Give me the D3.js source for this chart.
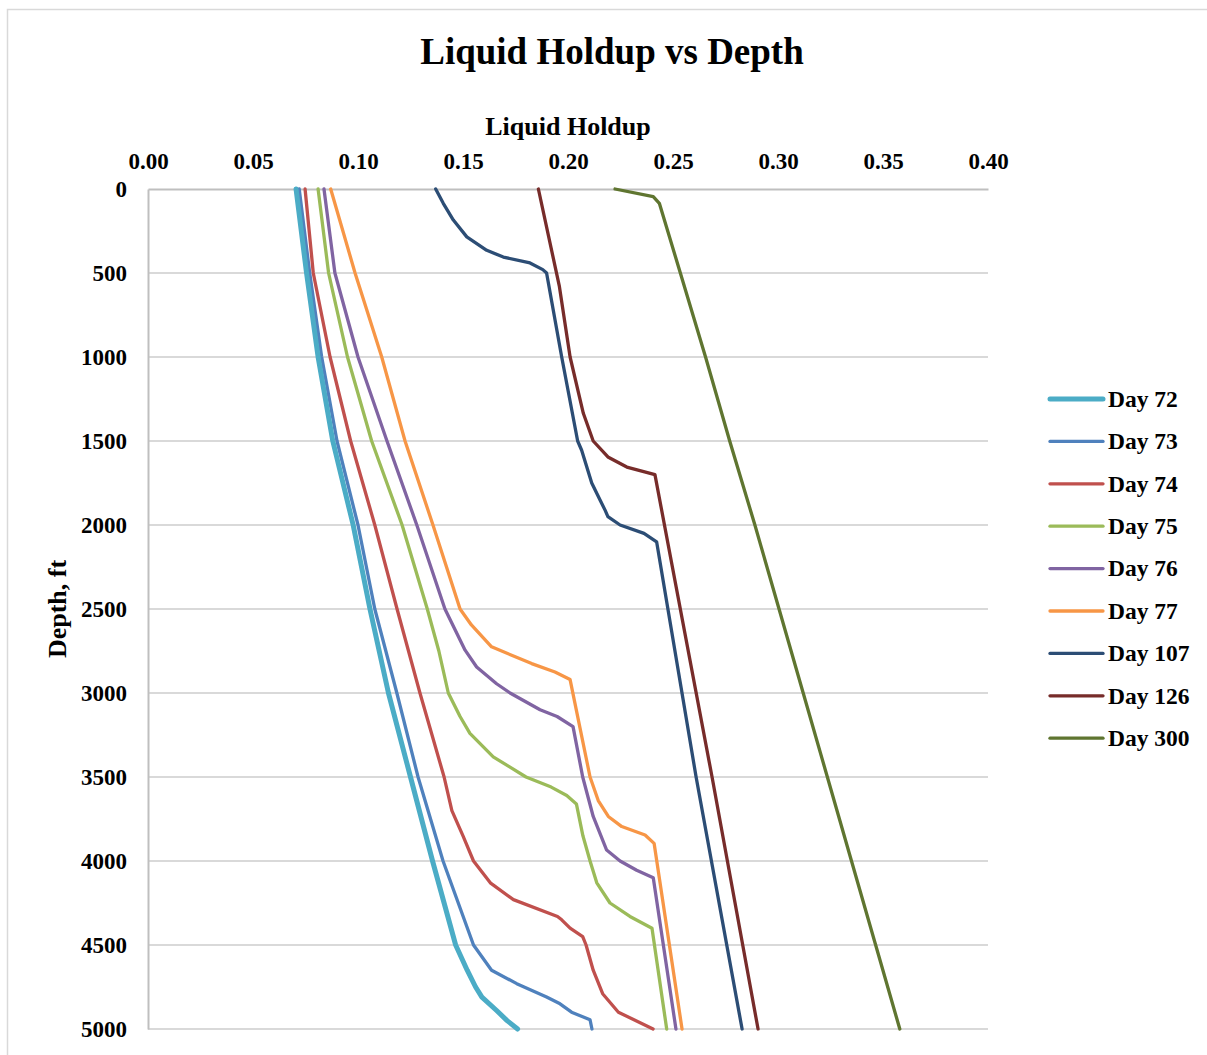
<!DOCTYPE html>
<html>
<head>
<meta charset="utf-8">
<script src="https://cdn.jsdelivr.net/npm/d3@7"></script>
<style>
  html, body { margin: 0; padding: 0; background: #fff; }
  svg text { font-family: "Liberation Serif", "Times New Roman", serif; font-weight: bold; fill: #000; }
</style>
</head>
<body>
<svg id="chart" width="1207" height="1055"></svg>
<script>
// Liquid holdup profiles along the well, one [depth ft, holdup] list per day
const seriesNames = ["Day 72", "Day 73", "Day 74", "Day 75", "Day 76", "Day 77", "Day 107", "Day 126", "Day 300"];
const seriesColors = ["#4bacc6", "#4f81bd", "#c0504d", "#9bbb59", "#8064a2", "#f79646", "#2c4d75", "#772c2a", "#5f7530"];

const day72 = [[0,0.0705],[500,0.0755],[1000,0.081],[1500,0.088],[2000,0.0977],[2500,0.1057],[3000,0.1145],[3500,0.125],[4000,0.1355],[4500,0.1465],[4650,0.152],[4750,0.156],[4810,0.159],[4890,0.166],[4950,0.171],[5000,0.176]];
const day73 = [[0,0.072],[500,0.077],[1000,0.0827],[1500,0.090],[2000,0.100],[2500,0.108],[3000,0.1185],[3500,0.1286],[4000,0.1405],[4500,0.155],[4650,0.1636],[4730,0.1756],[4810,0.1898],[4850,0.1962],[4900,0.2017],[4945,0.2105],[5000,0.2114]];
const day74 = [[0,0.0748],[500,0.0787],[1000,0.0867],[1500,0.0965],[2000,0.108],[2500,0.1186],[3000,0.1295],[3500,0.141],[3700,0.1447],[3850,0.150],[4000,0.155],[4130,0.163],[4230,0.174],[4330,0.195],[4350,0.197],[4400,0.201],[4450,0.207],[4500,0.2086],[4650,0.212],[4790,0.2165],[4900,0.224],[5000,0.2405]];
const day75 = [[0,0.081],[500,0.086],[1000,0.095],[1500,0.1065],[2000,0.121],[2500,0.133],[2750,0.1385],[3000,0.143],[3140,0.1486],[3240,0.1533],[3380,0.1644],[3500,0.180],[3560,0.192],[3610,0.1994],[3660,0.204],[3850,0.2071],[4000,0.2105],[4130,0.2137],[4250,0.220],[4330,0.2295],[4400,0.240],[5000,0.247]];
const day76 = [[0,0.0838],[500,0.089],[1000,0.100],[1500,0.1138],[2000,0.128],[2500,0.1414],[2745,0.151],[2845,0.1565],[2945,0.166],[3000,0.1724],[3100,0.1867],[3140,0.1948],[3200,0.2024],[3500,0.207],[3735,0.212],[3935,0.2184],[4000,0.2248],[4055,0.2327],[4100,0.2406],[5000,0.2514]];
const day77 = [[0,0.087],[500,0.0986],[1000,0.1113],[1500,0.1224],[2000,0.1357],[2500,0.1486],[2595,0.154],[2725,0.1636],[2825,0.1827],[2875,0.1938],[2920,0.201],[3500,0.2105],[3640,0.2144],[3735,0.2192],[3795,0.2256],[3845,0.2367],[3895,0.241],[5000,0.2543]];
const day107 = [[0,0.137],[85,0.1406],[185,0.1454],[285,0.1518],[365,0.1613],[405,0.1692],[440,0.1819],[480,0.188],[500,0.1898],[1000,0.197],[1500,0.2046],[1555,0.2065],[1750,0.2113],[1850,0.2152],[1910,0.2176],[1950,0.219],[2000,0.2248],[2050,0.2362],[2100,0.2422],[3500,0.261],[5000,0.2829]];
const day126 = [[0,0.1859],[580,0.1959],[1000,0.201],[1335,0.2073],[1500,0.212],[1595,0.219],[1655,0.228],[1700,0.2414],[3500,0.2686],[5000,0.2905]];
const day300 = [[0,0.2224],[45,0.2406],[85,0.2435],[500,0.2535],[1000,0.2655],[1500,0.277],[2000,0.289],[2500,0.3005],[3000,0.312],[3500,0.3235],[4000,0.335],[4500,0.3465],[5000,0.358]];
const seriesData = [day72, day73, day74, day75, day76, day77, day107, day126, day300];

const holdupTicks = [0, 0.05, 0.10, 0.15, 0.20, 0.25, 0.30, 0.35, 0.40];
const depthTicks = [0, 500, 1000, 1500, 2000, 2500, 3000, 3500, 4000, 4500, 5000];

const svg = d3.select("#chart");

// outer chart frame
svg.append("rect")
  .attr("x", 7.5).attr("y", 9.5)
  .attr("width", 1215).attr("height", 1060)
  .attr("fill", "#fff").attr("stroke", "#d9d9d9").attr("stroke-width", 1.5);

const plot = { left: 148, right: 988, top: 189, bottom: 1029 };

const x = d3.scaleLinear().domain([0, 0.40]).range([plot.left, plot.right]);
const y = d3.scaleLinear().domain([0, 5000]).range([plot.top, plot.bottom]);

// horizontal gridlines
svg.append("g")
  .selectAll("line")
  .data(depthTicks.filter(d => d > 0))
  .join("line")
  .attr("x1", plot.left).attr("x2", plot.right)
  .attr("y1", d => y(d)).attr("y2", d => y(d))
  .attr("stroke", "#d9d9d9").attr("stroke-width", 2);

// top (holdup) axis
const xAxis = svg.append("g")
  .attr("transform", `translate(0,${plot.top})`)
  .call(d3.axisTop(x).tickValues(holdupTicks).tickFormat(d3.format(".2f")).tickSize(0).tickPadding(20));
xAxis.select(".domain").attr("stroke", "#bfbfbf").attr("stroke-width", 2);
xAxis.selectAll("text")
  .attr("font-size", 23)
  .attr("font-family", "Liberation Serif")
  .attr("font-weight", "bold")
  .attr("fill", "#000");

// left (depth) axis
const yAxis = svg.append("g")
  .attr("transform", `translate(${plot.left},0)`)
  .call(d3.axisLeft(y).tickValues(depthTicks).tickFormat(d3.format("d")).tickSize(0).tickPadding(21));
yAxis.select(".domain").attr("stroke", "#bfbfbf").attr("stroke-width", 2);
yAxis.selectAll("text")
  .attr("font-size", 23)
  .attr("font-family", "Liberation Serif")
  .attr("font-weight", "bold")
  .attr("fill", "#000");

// profile lines
const line = d3.line()
  .x(d => x(d[1]))
  .y(d => y(d[0]));

const order = [8, 7, 6, 5, 4, 3, 2, 1, 0];
svg.append("g")
  .selectAll("path")
  .data(order)
  .join("path")
  .attr("d", i => line(seriesData[i]))
  .attr("fill", "none")
  .attr("stroke", i => seriesColors[i])
  .attr("stroke-width", i => i === 0 ? 5 : 3.3)
  .attr("stroke-linejoin", "round")
  .attr("stroke-linecap", "round");

// titles
svg.append("text")
  .attr("x", 612).attr("y", 64)
  .attr("text-anchor", "middle")
  .attr("font-size", 37)
  .text("Liquid Holdup vs Depth");

svg.append("text")
  .attr("x", 568).attr("y", 135)
  .attr("text-anchor", "middle")
  .attr("font-size", 26)
  .text("Liquid Holdup");

svg.append("text")
  .attr("transform", "translate(66,609) rotate(-90)")
  .attr("text-anchor", "middle")
  .attr("font-size", 26)
  .text("Depth, ft");

// legend
const legend = svg.append("g");
const legendRows = legend.selectAll("g")
  .data(seriesNames)
  .join("g")
  .attr("transform", (d, i) => `translate(1050,${399 + i * 42.4})`);
legendRows.append("line")
  .attr("x1", 0).attr("x2", 53)
  .attr("y1", 0).attr("y2", 0)
  .attr("stroke", (d, i) => seriesColors[i])
  .attr("stroke-width", (d, i) => i === 0 ? 5 : 3.3)
  .attr("stroke-linecap", "round");
legendRows.append("text")
  .attr("x", 58).attr("y", 0)
  .attr("dy", "0.33em")
  .attr("font-size", 23.5)
  .text(d => d);
</script>
</body>
</html>
